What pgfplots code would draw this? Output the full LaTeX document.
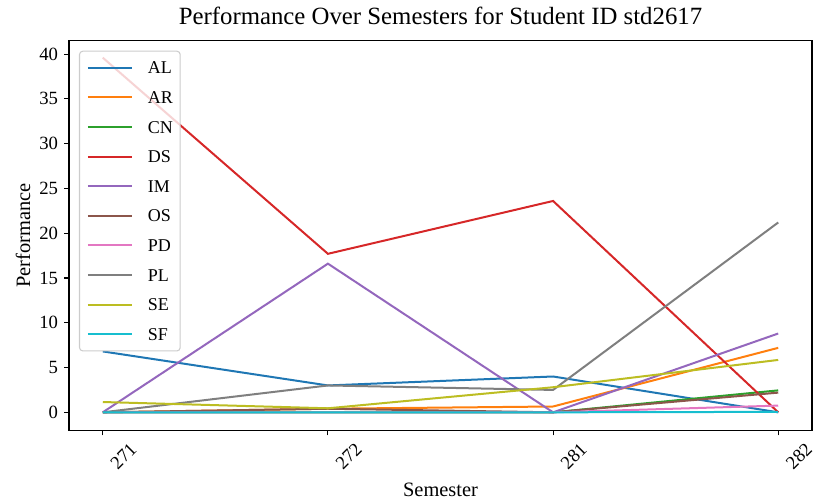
\documentclass[border=0pt]{standalone}
\usepackage{pgfplots}
\pgfplotsset{compat=1.18}
\usepackage{fontspec}
\setmainfont{Liberation Serif}
\definecolor{c0}{HTML}{1F77B4}
\definecolor{c1}{HTML}{FF7F0E}
\definecolor{c2}{HTML}{2CA02C}
\definecolor{c3}{HTML}{D62728}
\definecolor{c4}{HTML}{9467BD}
\definecolor{c5}{HTML}{8C564B}
\definecolor{c6}{HTML}{E377C2}
\definecolor{c7}{HTML}{7F7F7F}
\definecolor{c8}{HTML}{BCBD22}
\definecolor{c9}{HTML}{17BECF}
\newcommand{\tl}{\fontsize{14}{14}\selectfont}
\begin{document}
\begin{tikzpicture}
\begin{axis}[
  scale only axis,
  width=557.25pt, height=292.5pt,
  xmin=-0.15, xmax=3.15,
  ymin=-2.05, ymax=41.5,
  xtick={0,1,2,3},
  xticklabels={{\tl 271},{\tl 272},{\tl 281},{\tl 282}},
  tick label style={font=\fontsize{14}{14}\selectfont},
  xticklabel style={rotate=45, anchor=center, inner sep=0pt, yshift=-22pt},
  ytick={0,5,10,15,20,25,30,35,40},
  yticklabel style={anchor=east, inner sep=0pt, xshift=-4.5pt},
  /pgf/number format/assume math mode=true,
  tick align=outside,
  tick style={black, line width=0.8pt},
  major tick length=3.5pt,
  xtick pos=bottom, ytick pos=left,
  axis line style={line width=0.8pt},
  title={Performance Over Semesters for Student ID std2617},
  title style={at={(axis description cs:0.5,1)}, anchor=base, yshift=6.5pt, inner sep=0pt, font=\fontsize{18.6}{18.6}\selectfont},
  xlabel={Semester},
  ylabel={Performance},
  xlabel style={at={(axis description cs:0.5,0)}, anchor=base, yshift=-49.5pt, inner sep=0pt, font=\fontsize{15.3}{15.3}\selectfont},
  ylabel style={at={(axis description cs:-0.0619,0.5)}, anchor=center, inner sep=0pt, font=\fontsize{15.3}{15.3}\selectfont},
  every axis plot/.append style={line width=1.5pt},
  legend style={at={(axis description cs:0,1)}, anchor=north west, xshift=7.5pt, yshift=-7.5pt,
    draw=black!20, line width=0.8pt, rounded corners=2.5pt,
    fill=white, fill opacity=0.8, text opacity=1, draw opacity=1,
    font=\fontsize{13.5}{13.5}\selectfont,
    inner xsep=5.5pt, inner ysep=8pt, row sep=13.2pt,
    nodes={inner sep=0pt, text height=9pt, text depth=0pt},
    column sep=0pt},
  legend cell align=left,
  legend image code/.code={\draw[#1, line width=1.5pt] (0pt,0pt) -- (33pt,0pt); \path[draw=none] (45pt,0pt);},
]
\addplot[color=c0] coordinates {(0,6.8) (1,3.0) (2,4.0) (3,0.0)};
\addlegendentry{AL}
\addplot[color=c1] coordinates {(0,0) (1,0.4) (2,0.65) (3,7.2)};
\addlegendentry{AR}
\addplot[color=c2] coordinates {(0,0) (1,0) (2,0) (3,2.45)};
\addlegendentry{CN}
\addplot[color=c3] coordinates {(0,39.6) (1,17.7) (2,23.6) (3,0)};
\addlegendentry{DS}
\addplot[color=c4] coordinates {(0,0) (1,16.6) (2,0) (3,8.8)};
\addlegendentry{IM}
\addplot[color=c5] coordinates {(0,0) (1,0.4) (2,0) (3,2.2)};
\addlegendentry{OS}
\addplot[color=c6] coordinates {(0,0) (1,0) (2,0) (3,0.75)};
\addlegendentry{PD}
\addplot[color=c7] coordinates {(0,0) (1,3.0) (2,2.5) (3,21.2)};
\addlegendentry{PL}
\addplot[color=c8] coordinates {(0,1.15) (1,0.45) (2,2.8) (3,5.85)};
\addlegendentry{SE}
\addplot[color=c9] coordinates {(0,0) (1,0) (2,0) (3,0.05)};
\addlegendentry{SF}
\end{axis}
\pgfresetboundingbox
\path ([xshift=-51.75pt,yshift=-53.5pt]current axis.south west) rectangle ([xshift=0.75pt,yshift=30.5pt]current axis.north east);
\end{tikzpicture}
\end{document}
